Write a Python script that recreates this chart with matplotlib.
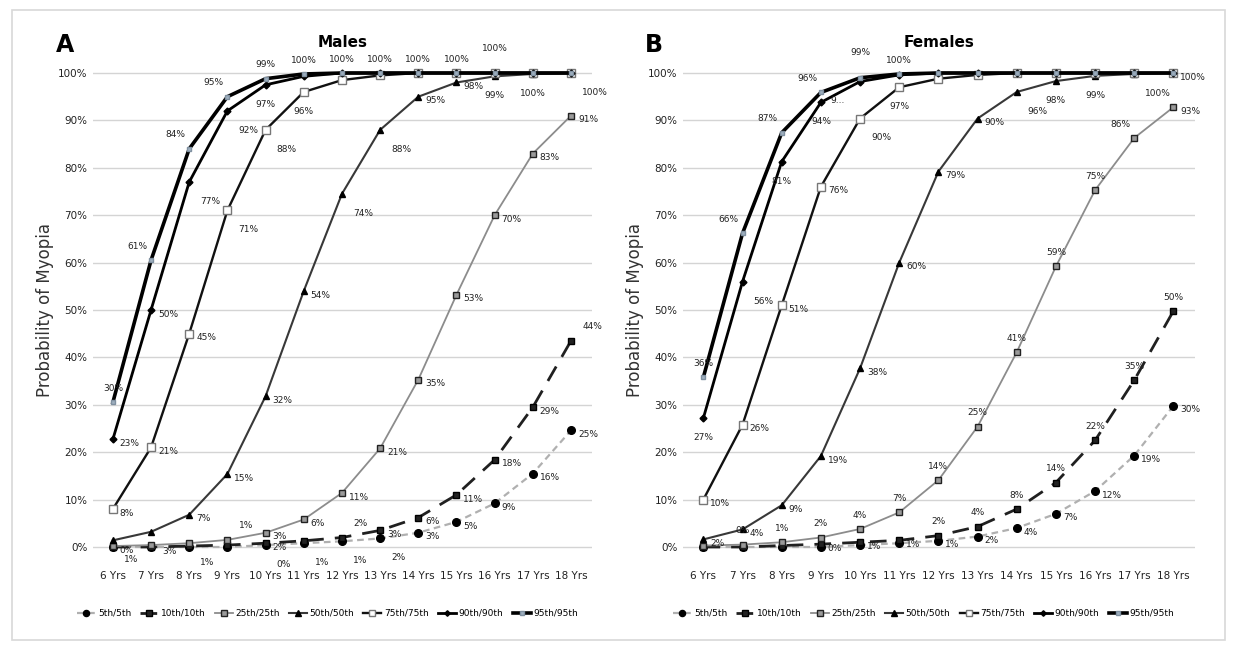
import matplotlib
matplotlib.use("Agg")
import matplotlib.pyplot as plt
from matplotlib.patches import Rectangle
from matplotlib.lines import Line2D

plt.rcParams['font.family'] = ['Liberation Sans Narrow', 'DejaVu Sans']

ages = [6, 7, 8, 9, 10, 11, 12, 13, 14, 15, 16, 17, 18]
age_labels = [f"{a} Yrs" for a in ages]
series_names = ['5th/5th', '10th/10th', '25th/25th', '50th/50th', '75th/75th', '90th/90th', '95th/95th']

# males, percent
m_p5 = [0, 0, 0, 0, 0.4, 0.8, 1.2, 1.8, 3, 5.3, 9.2, 15.5, 24.6]
m_p10 = [0, 0, 0.2, 0.4, 0.8, 1.3, 2, 3.5, 6.2, 11, 18.4, 29.5, 43.5]
m_p25 = [0.2, 0.4, 0.8, 1.5, 3, 5.8, 11.4, 20.8, 35.3, 53.2, 70, 83, 91]
m_p50 = [1.4, 3.2, 6.8, 15.4, 31.8, 54, 74.5, 88, 95, 98, 99.3, 99.8, 100]
m_p75 = [8, 21, 45, 71, 88, 96, 98.5, 99.5, 100, 100, 100, 100, 100]
m_p90 = [22.7, 50, 77, 92, 97.5, 99.3, 100, 100, 100, 100, 100, 100, 100]
m_p95 = [30.5, 60.5, 84, 95, 98.8, 99.8, 100, 100, 100, 100, 100, 100, 100]

# females, percent
f_p5 = [0, 0, 0, 0, 0.4, 0.8, 1.3, 2.2, 4, 7, 11.8, 19.3, 29.8]
f_p10 = [0, 0, 0.3, 0.6, 1, 1.4, 2.4, 4.3, 8, 13.6, 22.5, 35.2, 49.8]
f_p25 = [0.3, 0.5, 1, 2, 3.8, 7.3, 14.1, 25.4, 41.1, 59.2, 75.3, 86.3, 92.8]
f_p50 = [1.6, 3.7, 8.8, 19.2, 37.7, 60, 79.2, 90.4, 96, 98.3, 99.4, 99.8, 100]
f_p75 = [10, 25.8, 51, 76, 90.4, 97, 98.8, 99.6, 100, 100, 100, 100, 100]
f_p90 = [27.2, 56, 81.3, 93.8, 98.2, 99.6, 100, 100, 100, 100, 100, 100, 100]
f_p95 = [35.8, 66.2, 87.4, 95.9, 99, 99.8, 100, 100, 100, 100, 100, 100, 100]

m_text = [
    ['', '', '', '', '0%', '1%', '1%', '2%', '3%', '5%', '9%', '16%', '25%'],
    ['', '', '', '', '2%', '', '2%', '3%', '6%', '11%', '18%', '29%', '44%'],
    ['0%', '', '1%', '1%', '3%', '6%', '11%', '21%', '35%', '53%', '70%', '83%', '91%'],
    ['1%', '3%', '7%', '15%', '32%', '54%', '74%', '88%', '95%', '98%', '99%', '100%', '100%'],
    ['8%', '21%', '45%', '71%', '88%', '96%', '', '', '', '', '', '', ''],
    ['23%', '50%', '77%', '92%', '97%', '', '', '', '', '', '', '', ''],
    ['30%', '61%', '84%', '95%', '99%', '100%', '100%', '100%', '100%', '100%', '100%', '', ''],
]
f_text = [
    ['', '', '', '', '', '', '1%', '2%', '4%', '7%', '12%', '19%', '30%'],
    ['', '', '', '0%', '1%', '1%', '2%', '4%', '8%', '14%', '22%', '35%', '50%'],
    ['', '0%', '1%', '2%', '4%', '7%', '14%', '25%', '41%', '59%', '75%', '86%', '93%'],
    ['2%', '4%', '9%', '19%', '38%', '60%', '79%', '90%', '96%', '98%', '99%', '100%', ''],
    ['10%', '26%', '51%', '76%', '90%', '97%', '', '', '', '', '', '', ''],
    ['27%', '56%', '81%', '94%', '9...', '', '', '', '', '', '', '', ''],
    ['36%', '66%', '87%', '96%', '99%', '100%', '', '', '', '', '', '', '100%'],
]

# label placement codes: r right, a above, b below, q below-right, p above-left,
# u above-right, h high, l below-left
m_place = [
    'rrrrqqqqrrrrr',
    'rrrrrrurrrrru',
    'rrqurrrrrrrrr',
    'qqrrrrqqrrbbq',
    'rrrqqbrrrrrrr',
    'rrqqbrrrrrrrr',
    'apppaaaaaahhr',
]
f_place = [
    'rrrrrrrrrrrrr',
    'rrrrrraaaaaaa',
    'raaaaaaaaaapr',
    'rrrrrrrrqbbqr',
    'rrrrqbrrrrrrr',
    'bqbblrrrrrrrr',
    'appphararrrrr',
]
offsets = {'r': (5, -3), 'a': (0, 10), 'b': (0, -14), 'q': (8, -14),
           'p': (-10, 10), 'u': (8, 10), 'h': (0, 18), 'l': (-16, -14)}

styles = [
    dict(color='#b0b0b0', lw=1.6, ls=(0, (3, 2)), marker='o', ms=5.5, mfc='black', mec='black'),
    dict(color='#202020', lw=2.0, ls=(0, (6, 4)), marker='s', ms=5, mfc='#222222', mec='black'),
    dict(color='#8c8c8c', lw=1.3, ls='-', marker='s', ms=5, mfc='#9a9a9a', mec='#222222'),
    dict(color='#383838', lw=1.5, ls='-', marker='^', ms=5, mfc='black', mec='black'),
    dict(color='#111111', lw=1.7, ls='-', marker='s', ms=6, mfc='white', mec='#777777'),
    dict(color='black', lw=2.0, ls='-', marker='D', ms=3.5, mfc='black', mec='black'),
    dict(color='black', lw=2.6, ls='-', marker='s', ms=3, mfc='#9fb0c0', mec='#7f90a0'),
]

fig = plt.figure(figsize=(12.37, 6.53), dpi=100)
fig.patches.append(Rectangle((12 / 1237, 13 / 653), 1213 / 1237, 630 / 653,
                             transform=fig.transFigure, fill=False,
                             edgecolor='#d8d8d8', lw=1.2))


def draw_panel(rect, data, texts, places, title, letter):
    ax = fig.add_axes(rect)
    for vals, txt, plc, st in zip(data, texts, places, styles):
        y = [v / 100 for v in vals]
        ax.plot(ages, y, **st, zorder=3)
        for x, yy, t, c in zip(ages, y, txt, plc):
            if t:
                ax.annotate(t, (x, yy), xytext=offsets[c], textcoords='offset points',
                            fontsize=6.5, color='#222222', ha='left' if c in 'rqu' else 'center',
                            va='center', zorder=4)
    ax.set_xlim(5.48, 18.55)
    ax.set_ylim(-0.038, 1.038)
    ax.set_yticks([i / 10 for i in range(11)])
    ax.set_yticklabels([f"{i * 10}%" for i in range(11)], fontsize=7.5)
    ax.set_xticks(ages)
    ax.set_xticklabels(age_labels, fontsize=7.5)
    ax.grid(axis='y', color='#d4d4d4', lw=1)
    ax.set_axisbelow(True)
    for s in ax.spines.values():
        s.set_visible(False)
    ax.tick_params(length=0, pad=4, colors='#222222')
    ax.set_ylabel('Probability of Myopia', fontsize=12, family='DejaVu Sans',
                  color='#333333', labelpad=3)
    ax.set_title(title, fontsize=11, fontweight='bold', pad=6)
    ax.text(-0.056, 1.02, letter, transform=ax.transAxes, fontsize=17,
            fontweight='bold', family='DejaVu Sans', ha='center', va='center')
    handles = [Line2D([0], [0], **st) for st in styles]
    ax.legend(handles, series_names, loc='upper center', bbox_to_anchor=(0.47, -0.07),
              ncol=7, frameon=False, fontsize=6.5, handlelength=2.0,
              columnspacing=1.0, handletextpad=0.3, markerscale=0.8)
    return ax


draw_panel([93 / 1237, 88 / 653, 499 / 1237, 510 / 653],
           [m_p5, m_p10, m_p25, m_p50, m_p75, m_p90, m_p95], m_text, m_place, 'Males', 'A')
draw_panel([683 / 1237, 88 / 653, 512 / 1237, 510 / 653],
           [f_p5, f_p10, f_p25, f_p50, f_p75, f_p90, f_p95], f_text, f_place, 'Females', 'B')

plt.savefig('out.png', dpi=100)
